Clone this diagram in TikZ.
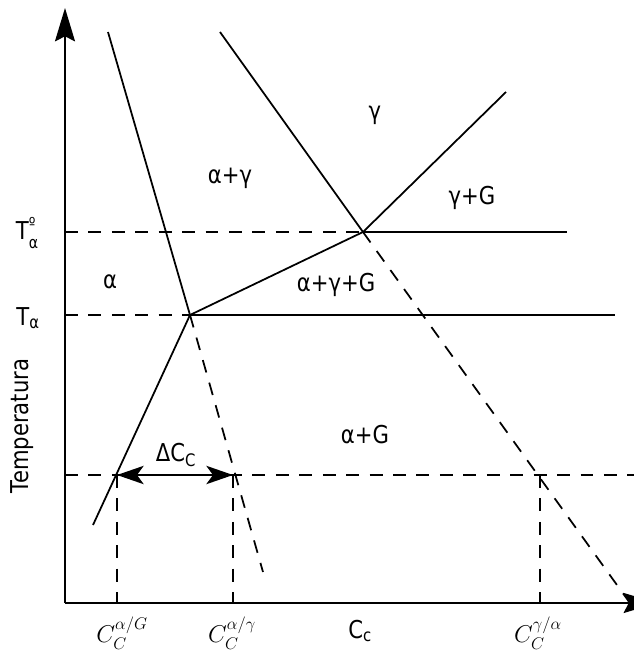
\documentclass[tikz,border=0pt]{standalone}
\usepackage{amsmath}
\usepackage{fontspec}
\setmainfont[FakeStretch=0.86]{DejaVu Sans}
\usetikzlibrary{arrows.meta}

\begin{document}
\begin{tikzpicture}[x=0.03cm,y=-0.03cm,line width=1.5pt,
  dashline/.style={dash pattern=on 11pt off 9pt},
  bigtip/.style={-{Stealth[length=1cm,width=0.6cm,inset=0.15cm]}},
  midtip/.style={{Stealth[length=0.8cm,width=0.55cm,inset=0.2cm]}-{Stealth[length=0.8cm,width=0.55cm,inset=0.2cm]}},
  phase/.style={font=\fontsize{21}{24}\selectfont,inner sep=0pt},
  conc/.style={font=\fontsize{22}{26}\selectfont,inner sep=0pt}]
  \useasboundingbox (0,0) rectangle (633,651);
  % axes
  \coordinate (o) at (65,603);
  \coordinate (ytop) at (65,8);
  \coordinate (xend) at (657,603);
  \draw[bigtip] (o) -- (ytop);
  \draw[bigtip] (o) -- (xend);
  % triple points and line ends
  \coordinate (pa) at (190,315);
  \coordinate (pg) at (363,232);
  \coordinate (a1) at (108,32);
  \coordinate (a2) at (263,572);
  \coordinate (ag) at (93,525);
  \coordinate (g1) at (220,32);
  \coordinate (g2) at (640,617);
  \coordinate (gg) at (506,92);
  \coordinate (e1) at (567,232);
  \coordinate (e2) at (615,315);
  \draw (a1) -- (pa);
  \draw (pa) -- (ag);
  \draw[dashline] (pa) -- (a2);
  \draw (g1) -- (pg);
  \draw (pg) -- (gg);
  \draw[dashline] (pg) -- (g2);
  \draw (pa) -- (pg);
  \draw[dashline] (o |- pg) -- (pg);
  \draw (pg) -- (e1);
  \draw[dashline] (o |- pa) -- (pa);
  \draw (pa) -- (e2);
  % isotherm
  \coordinate (c1) at (117,475);
  \coordinate (c2) at (233,475);
  \coordinate (c3) at (540,475);
  \draw[dashline] (o |- c1) -- (640,475);
  \draw[dashline] (c1) -- (c1 |- o);
  \draw[dashline] (c2) -- (c2 |- o);
  \draw[dashline] (c3) -- (c3 |- o);
  \draw[midtip] (c1) -- (c2);
  % labels
  \node[phase] (dc) at (176,455) {ΔC$_{\text{C}}$};
  \node[phase] (ta0) at (27,233) {T\raisebox{-0.35em}{\fontsize{14}{14}\selectfont\shortstack[l]{º\\[5pt]α}}};
  \node[phase] (ta) at (28,318) {T$_{\text{α}}$};
  \node[phase] (fa) at (110,282) {α};
  \node[phase] (fag) at (230,178) {α+γ};
  \node[phase] (fg) at (375,115) {γ};
  \node[phase] (fgG) at (472,198) {γ+G};
  \node[phase] (fagG) at (336,285) {α+γ+G};
  \node[phase] (faG) at (365,435) {α+G};
  \node[phase,rotate=90] (temp) at (22,426) {Temperatura};
  \node[phase] (cc) at (360,631) {C$_{\text{c}}$};
  \node[conc] (k1) at (122,633) {$C_C^{\alpha/G}$};
  \node[conc] (k2) at (232,633) {$C_C^{\alpha/\gamma}$};
  \node[conc] (k3) at (538,633) {$C_C^{\gamma/\alpha}$};
\end{tikzpicture}
\end{document}
